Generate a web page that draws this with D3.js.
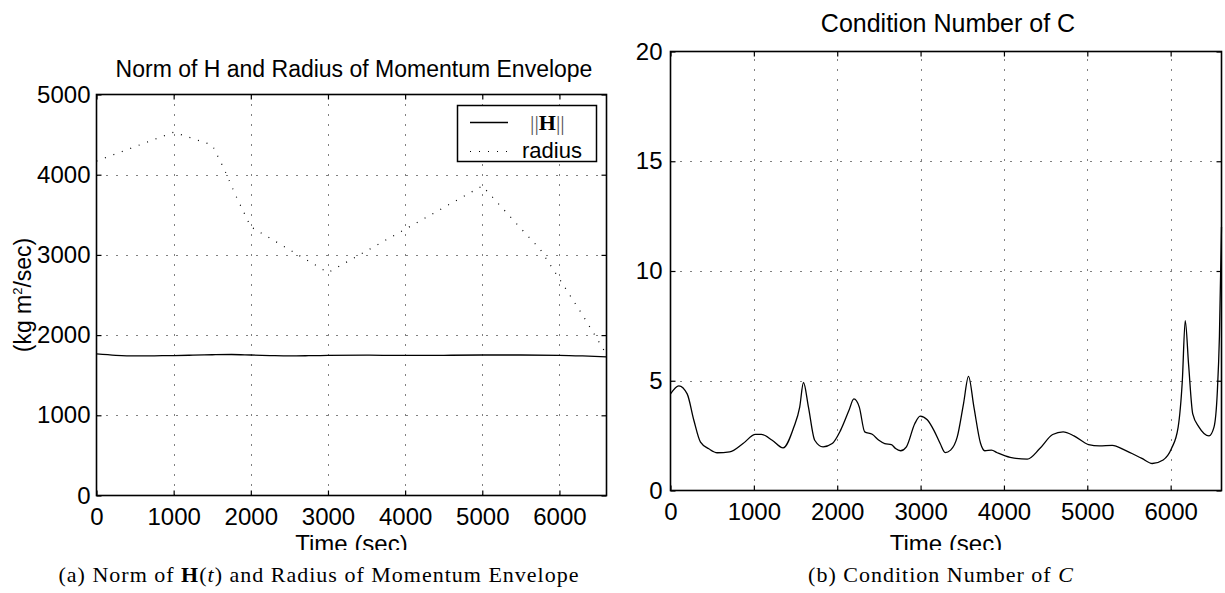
<!DOCTYPE html>
<html>
<head>
<meta charset="utf-8">
<script src="https://cdn.jsdelivr.net/npm/d3@7"></script>
<style>
  body { margin: 0; background: #fff; }
  text { font-family: "Liberation Sans", Arial, sans-serif; fill: #000; }
  .cap { font-family: "Liberation Serif", "Times New Roman", serif; }
</style>
</head>
<body>
<div id="chart"></div>
<script>
// ---- data ----
// (a) norm of H and radius of momentum envelope
const hTime = [0, 250, 500, 750, 1000, 1250, 1500, 1750, 2000, 2250, 2500, 2750, 3000, 3500, 4000, 4500, 5000, 5500, 6000, 6300, 6610];
const hNorm = [1765, 1748, 1740, 1742, 1745, 1750, 1755, 1758, 1752, 1745, 1740, 1743, 1748, 1750, 1746, 1748, 1752, 1752, 1748, 1740, 1728];
const radiusTime = [0, 1000, 1250, 1500, 1650, 1800, 2000, 3000, 5000, 5500, 5750, 6000, 6300, 6610];
const radiusVals = [4170, 4530, 4450, 4370, 4080, 3750, 3350, 2780, 3860, 3330, 3070, 2700, 2250, 1760];

// (b) condition number of C
const condTime = [0, 100, 200, 280, 360, 460, 560, 710, 870, 1020, 1090, 1220, 1350, 1480, 1550, 1595, 1655, 1730, 1830, 1940,
  2040, 2140, 2200, 2265, 2330, 2420, 2500, 2570, 2650, 2700, 2760, 2830, 2930, 2995, 3080, 3160, 3235, 3295, 3360, 3440,
  3515, 3575, 3640, 3720, 3770, 3850, 3920, 4075, 4280, 4430, 4585, 4710, 4840, 5015, 5145, 5300, 5450, 5655, 5780, 5910,
  6010, 6090, 6140, 6175, 6215, 6265, 6340, 6460, 6520, 6560, 6585, 6610];
const condVals = [4.4, 4.77, 4.4, 3.2, 2.2, 1.9, 1.72, 1.76, 2.14, 2.56, 2.56, 2.29, 1.94, 2.89, 3.8, 4.92, 3.8, 2.29, 1.99, 2.14,
  2.74, 3.64, 4.17, 3.8, 2.67, 2.56, 2.29, 2.14, 2.09, 1.91, 1.81, 1.99, 3.04, 3.39, 3.22, 2.74, 2.14, 1.73, 1.84, 2.44,
  3.95, 5.2, 3.8, 2.14, 1.81, 1.84, 1.72, 1.51, 1.43, 1.91, 2.55, 2.67, 2.49, 2.09, 2.03, 2.06, 1.84, 1.46, 1.23, 1.39,
  1.91, 2.89, 5.0, 7.74, 5.75, 3.49, 2.89, 2.49, 2.89, 4.5, 7.0, 12.0];

// tick values
const timeTicks = [0, 1000, 2000, 3000, 4000, 5000, 6000];
const momTicks = [0, 1000, 2000, 3000, 4000, 5000];
const condTicks = [0, 5, 10, 15, 20];

const svg = d3.select("#chart")
    .append("svg")
    .attr("width", 1225)
    .attr("height", 593);

// clip for the cut-off x labels
svg.append("clipPath").attr("id", "cut")
    .append("rect").attr("x", 0).attr("y", 0).attr("width", 1225).attr("height", 550);

function drawPanel(box, xDomain, yDomain, yTicks, yPad) {
    const x = d3.scaleLinear().domain(xDomain).range([box.left, box.right]);
    const y = d3.scaleLinear().domain(yDomain).range([box.bottom, box.top]);

    // dotted grid
    const grid = svg.append("g")
        .attr("stroke", "#000")
        .attr("stroke-width", 1)
        .attr("stroke-dasharray", "1,9");
    grid.selectAll(".vg").data(timeTicks.filter(d => d > xDomain[0]))
        .join("line")
        .attr("x1", d => Math.round(x(d)) + 0.5).attr("x2", d => Math.round(x(d)) + 0.5)
        .attr("y1", box.bottom).attr("y2", box.top);
    grid.selectAll(".hg").data(yTicks.filter(d => d > yDomain[0] && d < yDomain[1]))
        .join("line")
        .attr("y1", d => Math.round(y(d)) + 0.5).attr("y2", d => Math.round(y(d)) + 0.5)
        .attr("x1", box.left).attr("x2", box.right);

    // axes, ticks pointing inward on all four sides
    const ax = (g, axis) => g.call(axis).call(s => s.select(".domain").remove())
        .call(s => s.selectAll("text").style("font-size", "24px").style("font-family", null));
    ax(svg.append("g").attr("transform", `translate(0,${box.bottom})`),
        d3.axisBottom(x).tickValues(timeTicks).tickSize(-5).tickPadding(12).tickFormat(d3.format("d")));
    ax(svg.append("g").attr("transform", `translate(0,${box.top})`),
        d3.axisTop(x).tickValues(timeTicks).tickSize(-5).tickFormat(""));
    ax(svg.append("g").attr("transform", `translate(${box.left},0)`),
        d3.axisLeft(y).tickValues(yTicks).tickSize(-5).tickPadding(yPad).tickFormat(d3.format("d")));
    ax(svg.append("g").attr("transform", `translate(${box.right},0)`),
        d3.axisRight(y).tickValues(yTicks).tickSize(-5).tickFormat(""));
    svg.selectAll(".tick line").attr("stroke-width", 1.2);

    // frame
    svg.append("rect")
        .attr("x", box.left).attr("y", box.top)
        .attr("width", box.right - box.left).attr("height", box.bottom - box.top)
        .attr("fill", "none").attr("stroke", "#000").attr("stroke-width", 1.6);

    // x label
    svg.append("text")
        .attr("x", (box.left + box.right) / 2).attr("y", 552)
        .attr("text-anchor", "middle").style("font-size", "24px")
        .attr("clip-path", "url(#cut)")
        .text("Time (sec)");
    return {x, y};
}

// ---- panel (a) ----
const boxA = {left: 96.5, right: 606.5, top: 94.5, bottom: 495.5};
const a = drawPanel(boxA, [0, 6610], [0, 5000], momTicks, 6);

svg.append("path")
    .datum(hTime.map((t, i) => [t, hNorm[i]]))
    .attr("fill", "none").attr("stroke", "#000").attr("stroke-width", 1.3)
    .attr("d", d3.line().x(d => a.x(d[0])).y(d => a.y(d[1])).curve(d3.curveMonotoneX));

svg.append("path")
    .datum(radiusTime.map((t, i) => [t, radiusVals[i]]))
    .attr("fill", "none").attr("stroke", "#000").attr("stroke-width", 1.2)
    .attr("stroke-dasharray", "1,8")
    .attr("d", d3.line().x(d => a.x(d[0])).y(d => a.y(d[1])));

svg.append("text")
    .attr("x", 354).attr("y", 77)
    .attr("text-anchor", "middle").style("font-size", "23px")
    .text("Norm of H and Radius of Momentum Envelope");

const yl = svg.append("text")
    .attr("transform", `translate(31,${(boxA.top + boxA.bottom) / 2}) rotate(-90)`)
    .attr("text-anchor", "middle").style("font-size", "23px");
yl.append("tspan").text("(kg m");
yl.append("tspan").attr("dy", -9).style("font-size", "13px").text("2");
yl.append("tspan").attr("dy", 9).text("/sec)");

// legend
const leg = svg.append("g");
leg.append("rect")
    .attr("x", 457.5).attr("y", 105.5).attr("width", 139).attr("height", 56)
    .attr("fill", "#fff").attr("stroke", "#000").attr("stroke-width", 1.5);
leg.append("line").attr("x1", 470).attr("x2", 508).attr("y1", 122.5).attr("y2", 122.5)
    .attr("stroke", "#000").attr("stroke-width", 1.3);
leg.append("line").attr("x1", 470).attr("x2", 508).attr("y1", 151.5).attr("y2", 151.5)
    .attr("stroke", "#000").attr("stroke-width", 1.2).attr("stroke-dasharray", "1,8");
const lh = leg.append("text").attr("x", 530).attr("y", 130).attr("class", "cap").style("font-size", "22px");
lh.append("tspan").style("fill", "#555").text("||");
lh.append("tspan").style("font-weight", "bold").text("H");
lh.append("tspan").style("fill", "#555").text("||");
leg.append("text").attr("x", 522).attr("y", 158).style("font-size", "22px").text("radius");

// ---- panel (b) ----
const boxB = {left: 670.5, right: 1221.5, top: 51.5, bottom: 490.5};
const b = drawPanel(boxB, [0, 6610], [0, 20], condTicks, 8);

svg.append("path")
    .datum(condTime.map((t, i) => [t, condVals[i]]))
    .attr("fill", "none").attr("stroke", "#000").attr("stroke-width", 1.3)
    .attr("d", d3.line().x(d => b.x(d[0])).y(d => b.y(d[1])).curve(d3.curveMonotoneX));

svg.append("text")
    .attr("x", 948).attr("y", 32)
    .attr("text-anchor", "middle").style("font-size", "25px")
    .text("Condition Number of C");

// ---- captions ----
const capA = svg.append("text").attr("class", "cap")
    .attr("x", 319).attr("y", 582).attr("text-anchor", "middle")
    .style("font-size", "22px").style("letter-spacing", "1px");
capA.append("tspan").text("(a) Norm of ");
capA.append("tspan").style("font-weight", "bold").text("H");
capA.append("tspan").text("(");
capA.append("tspan").style("font-style", "italic").text("t");
capA.append("tspan").text(") and Radius of Momentum Envelope");

const capB = svg.append("text").attr("class", "cap")
    .attr("x", 941).attr("y", 582).attr("text-anchor", "middle")
    .style("font-size", "22px").style("letter-spacing", "1px");
capB.append("tspan").text("(b) Condition Number of ");
capB.append("tspan").style("font-style", "italic").text("C");
</script>
</body>
</html>
